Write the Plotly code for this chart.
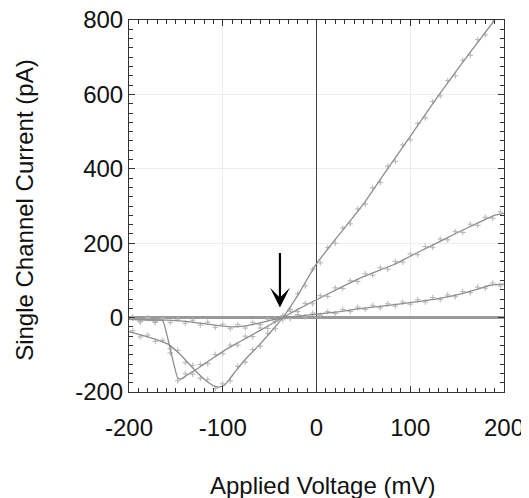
import plotly.graph_objects as go

# ---- fitted curves (knots) ----
fit_a_x = [-200, -194, -180, -170, -158, -145, -131, -120, -110, -104, -98, -92, -86, -80, -72, -62, -50, -36, -20, 0, 20, 50, 75, 100, 130, 160, 190, 200]
fit_a_y = [-38, -42, -52, -60, -72, -100, -138, -165, -183, -187, -181, -163, -143, -124, -102, -76, -42, 0, 60, 145, 210, 305, 397, 487, 597, 700, 800, 833]

fit_b_x = [-200, -185, -170, -164, -148, -144, -140, -131, -120, -110, -98, -87, -75, -62, -50, -36, -20, 0, 25, 50, 82, 100, 120, 150, 175, 190, 200]
fit_b_y = [-5, -6, -7, -8, -163, -165, -158, -144, -125, -108, -88, -72, -55, -37, -20, 0, 22, 48, 80, 110, 142, 165, 190, 228, 258, 275, 280]

fit_c_x = [-200, -180, -160, -140, -120, -100, -90, -75, -60, -45, -36, -20, 0, 25, 46, 75, 100, 130, 153, 170, 185, 200]
fit_c_y = [-5, -6, -7, -10, -16, -23, -25, -22, -14, -5, 0, 4, 9, 16, 24, 32, 40, 51, 63, 75, 87, 90]

# ---- measured points ----
dot_x = [-196, -188, -180, -172, -164, -156, -148, -140, -132, -124, -116, -108, -100, -92, -84, -76, -68, -60, -52, -44,
         -36, -28, -20, -12, -4, 4, 12, 20, 28, 36, 44, 52, 60, 68, 76, 84, 92, 100, 108, 116,
         124, 132, 140, 148, 156, 164, 172, 180, 188, 196]
dot_a = [-35, -52, -47, -64, -61, -84, -88, -121, -128, -163, -166, -191, -178, -170, -131, -120, -86, -77, -42, -30,
         5, 22, 64, 85, 130, 147, 188, 200, 241, 252, 292, 305, 349, 363, 407, 420, 464, 478, 522, 537,
         581, 596, 637, 650, 692, 705, 747, 760, 801, 818]
dot_b = [2, -12, 0, -13, -2, -95, -170, -151, -152, -126, -124, -99, -97, -74, -74, -50, -51, -28, -29, -5,
         -6, 17, 16, 38, 37, 59, 57, 80, 78, 99, 97, 118, 114, 134, 130, 151, 149, 171, 169, 191,
         189, 211, 209, 231, 229, 251, 248, 270, 267, 284]
dot_c = [-1, -10, -2, -11, -3, -13, -4, -15, -7, -20, -12, -26, -18, -30, -19, -28, -13, -19, -4, -10,
         4, -3, 8, 2, 12, 6, 16, 11, 22, 16, 28, 22, 33, 26, 37, 31, 42, 36, 48, 42,
         54, 48, 61, 56, 70, 67, 82, 79, 93, 85]

x_ticks = [-200, -100, 0, 100, 200]
y_ticks = [-200, 0, 200, 400, 600, 800]

FONT = "Liberation Sans, Arial, Helvetica, sans-serif"
LINE_C = "#8e8e8e"
DOT_C = "#b4b4b4"

fig = go.Figure()
for dy in (dot_a, dot_b, dot_c):
    fig.add_trace(go.Scatter(x=dot_x, y=dy, mode="markers",
                             marker=dict(symbol="cross-thin", size=4, color=DOT_C,
                                         line=dict(width=1, color=DOT_C)),
                             hoverinfo="skip", showlegend=False))
for fx, fy in ((fit_a_x, fit_a_y), (fit_b_x, fit_b_y), (fit_c_x, fit_c_y)):
    fig.add_trace(go.Scatter(x=fx, y=fy, mode="lines",
                             line=dict(color=LINE_C, width=1.3, shape="spline", smoothing=0.4),
                             hoverinfo="skip", showlegend=False))

fig.add_annotation(x=-39, y=27, ax=-39, ay=178, xref="x", yref="y", axref="x", ayref="y",
                   showarrow=True, arrowhead=3, arrowsize=1.5, arrowwidth=2.2,
                   arrowcolor="black", text="")

fig.add_annotation(text="Applied Voltage (mV)", xref="paper", yref="paper",
                   x=0.515, y=-0.25, xanchor="center", yanchor="middle", showarrow=False,
                   font=dict(family=FONT, size=24, color="#111111"))
fig.add_annotation(text="Single Channel Current (pA)", xref="paper", yref="paper",
                   x=-0.277, y=0.49, xanchor="center", yanchor="middle", showarrow=False,
                   textangle=-90, font=dict(family=FONT, size=24, color="#111111"))

def axis_common(minor_dtick):
    return dict(showline=True, linecolor="#333333", linewidth=1, mirror="ticks",
                ticks="inside", ticklen=6, tickcolor="#333333", automargin=False,
                ticklabeloverflow="allow",
                showgrid=True, gridcolor="#ececec", gridwidth=1,
                tickfont=dict(family=FONT, size=24, color="#111111"),
                minor=dict(ticks="inside", ticklen=4, tickcolor="#333333", showgrid=False,
                           dtick=minor_dtick, tick0=0))

# the page shows the figure with an 8 px body margin, so size/margins compensate for it
fig.update_layout(
    width=521, height=490,
    margin=dict(l=121, r=25, t=12, b=106),
    paper_bgcolor="white", plot_bgcolor="white",
    font=dict(family=FONT, color="#111111"),
    xaxis=dict(range=[-200, 200], tickvals=x_ticks, ticktext=[str(v) for v in x_ticks],
               zeroline=True, zerolinecolor="#444444", zerolinewidth=1, ticklabelstandoff=14,
               **axis_common(10)),
    yaxis=dict(range=[-200, 800], tickvals=y_ticks, ticktext=[str(v) for v in y_ticks],
               zeroline=True, zerolinecolor="#999999", zerolinewidth=2.5, ticklabelstandoff=0,
               **axis_common(25)),
)

fig.write_html("out.html")
